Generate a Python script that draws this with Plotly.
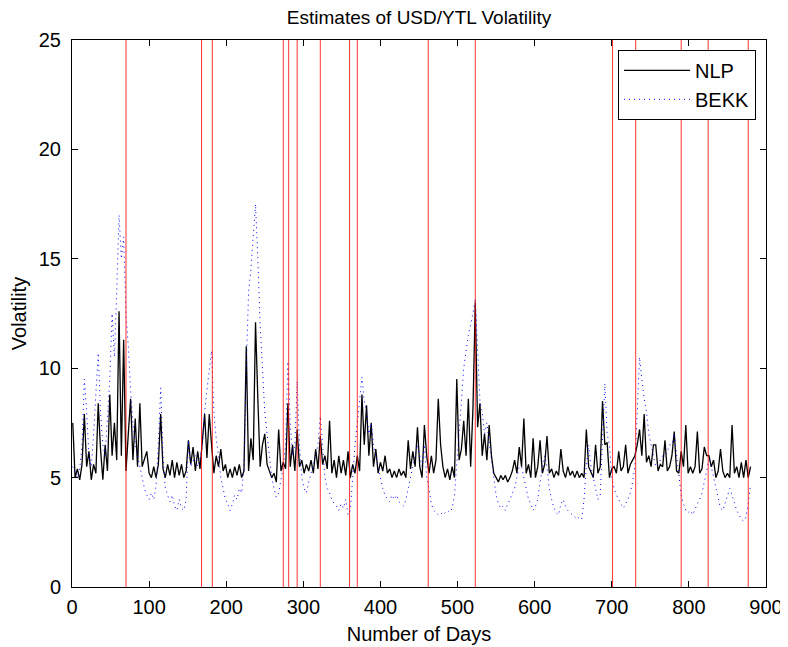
import numpy as np
import plotly.graph_objects as go

# NLP volatility estimates, sampled every 3 days starting at day 1
nlp_vol = [
    7.5, 5.0, 5.4, 4.9, 5.6, 7.9, 5.5, 6.2, 4.9, 5.6,
    5.2, 8.4, 6.3, 4.9, 6.5, 5.3, 8.8, 6.0, 7.5, 5.8,
    12.6, 6.0, 11.3, 5.3, 7.0, 8.6, 5.8, 7.7, 5.5, 8.4,
    5.5, 5.8, 6.2, 5.2, 5.0, 5.5, 5.0, 5.6, 7.9, 5.4,
    5.0, 5.6, 5.1, 5.8, 5.0, 5.7, 5.1, 5.6, 5.0, 5.3,
    6.7, 5.6, 6.4, 5.3, 6.2, 5.4, 6.8, 7.9, 5.9, 7.9,
    6.5, 5.2, 6.0, 5.5, 6.3, 5.3, 5.6, 5.0, 5.4, 5.0,
    5.5, 5.1, 5.6, 5.0, 5.3, 11.0, 5.3, 6.8, 5.8, 12.1,
    8.6, 5.5, 6.5, 7.0, 5.6, 5.3, 5.0, 5.2, 4.8, 7.2,
    5.3, 5.7, 5.4, 8.4, 5.5, 6.5, 5.3, 7.2, 5.5, 5.8,
    5.2, 5.6, 5.3, 5.8, 5.2, 6.3, 5.4, 6.9, 5.6, 6.0,
    5.4, 7.6, 5.2, 5.8, 5.0, 6.0, 5.2, 5.8, 5.1, 6.2,
    5.0, 5.6, 5.2, 6.0, 5.3, 8.8, 6.5, 8.3, 6.0, 7.5,
    5.5, 6.3, 5.2, 5.7, 5.3, 6.0, 5.2, 5.4, 5.0, 5.3,
    5.0, 5.4, 5.1, 5.3, 5.0, 6.7, 5.4, 6.2, 5.5, 7.3,
    5.5, 5.0, 7.4, 6.0, 5.2, 6.0, 5.2, 5.8, 8.6, 6.5,
    5.5, 5.0, 5.4, 4.9, 5.5, 5.0, 9.5, 5.8, 6.3, 7.6,
    6.0, 8.6, 5.5, 8.2, 13.0, 7.3, 8.4, 6.0, 7.0, 5.8,
    7.4, 6.0, 5.2, 5.0, 4.8, 5.1, 4.9, 5.1, 4.8, 5.0,
    5.3, 5.8, 5.2, 6.4, 5.5, 7.7, 5.2, 5.6, 5.0, 6.8,
    5.0, 5.5, 6.7, 5.2, 5.6, 6.9, 5.2, 5.4, 5.0, 5.3,
    5.1, 6.3, 5.3, 5.0, 5.5, 5.1, 5.3, 5.0, 5.3, 5.0,
    5.2, 5.0, 7.2, 5.5, 5.2, 5.0, 6.5, 5.2, 5.5, 8.5,
    6.5, 6.6, 5.0, 5.4, 5.5, 5.2, 6.2, 5.3, 5.5, 6.5,
    5.2, 5.6, 5.8, 6.0, 6.5, 7.2, 6.0, 7.9, 5.7, 6.0,
    5.5, 6.5, 6.5, 5.3, 5.6, 5.5, 6.7, 5.3, 5.5, 6.0,
    7.1, 5.3, 5.2, 6.2, 5.5, 7.4, 5.2, 5.5, 5.2, 5.5,
    7.1, 5.2, 5.4, 6.4, 6.0, 6.0, 5.5, 5.8, 5.0, 5.3,
    6.3, 5.3, 5.0, 5.2, 5.0, 7.4, 5.2, 5.5, 5.0, 5.7,
    5.0, 5.8, 5.0, 5.5,
]

# BEKK volatility estimates, sampled every 3 days starting at day 1
bekk_vol = [
    5.5, 5.2, 5.0, 5.4, 6.5, 9.5, 8.0, 6.0, 5.5, 7.0,
    9.0, 10.7, 8.0, 6.5, 6.0, 8.0, 9.5, 12.5, 10.5, 13.5,
    17.0, 15.0, 16.0, 12.5, 11.0, 9.0, 7.5, 6.5, 6.0, 5.5,
    5.0, 4.5, 4.2, 4.0, 4.3, 4.0, 4.6, 6.5, 9.1, 6.0,
    4.5, 4.2, 3.9, 4.2, 3.7, 3.5, 4.0, 3.6, 3.5, 4.0,
    6.7, 5.5, 5.8, 6.0, 5.5, 5.8, 6.5, 8.0, 9.0, 10.0,
    10.8, 8.0, 6.8, 6.0, 5.0, 4.5, 4.0, 3.8, 3.5, 3.8,
    4.2, 4.0, 4.5, 4.3, 5.5, 10.0, 13.5, 14.5, 16.0, 17.5,
    15.0, 12.0, 10.0, 8.0, 7.0, 6.0, 5.0, 4.5, 4.1, 4.3,
    5.0, 5.5, 6.5, 10.3, 7.5, 6.0, 6.5, 9.4, 6.5, 5.0,
    4.5, 4.3, 4.8, 5.2, 5.5, 6.0, 6.5, 7.8, 6.5, 5.0,
    4.5, 4.3, 4.0, 3.8, 3.7, 3.5, 3.8, 3.6, 4.0, 3.3,
    3.5, 5.0, 6.5, 7.5, 8.5, 9.6, 8.5, 8.0, 7.0, 7.5,
    6.5, 6.0, 5.5, 5.0, 4.5, 4.2, 4.0, 3.9, 4.2, 4.0,
    4.2, 3.9, 3.8, 3.7, 4.0, 4.5, 5.0, 5.5, 6.0, 6.5,
    6.0, 5.5, 6.5, 5.0, 4.5, 3.8, 3.5, 3.4, 3.3, 3.4,
    3.3, 3.4, 3.5, 3.4, 3.6, 4.2, 5.5, 7.0, 8.5, 10.0,
    10.8, 11.5, 12.0, 12.5, 13.2, 10.5, 8.5, 8.0, 7.0, 7.5,
    6.5, 5.8, 5.0, 4.2, 3.8, 3.6, 3.7, 3.5, 3.8, 4.0,
    4.3, 4.5, 5.0, 5.5, 5.5, 5.0, 4.5, 4.0, 3.8, 3.5,
    3.7, 4.0, 4.8, 5.5, 6.0, 5.5, 4.5, 4.0, 3.6, 3.4,
    3.3, 3.8, 4.0, 3.7, 3.5, 3.4, 3.3, 3.2, 3.1, 3.2,
    3.1, 4.0, 5.5, 6.5, 5.5, 5.0, 4.5, 4.0, 4.2, 7.0,
    9.3, 7.0, 6.5, 5.0, 4.5, 4.2, 4.0, 3.8, 3.6, 3.8,
    4.0, 4.3, 4.8, 5.5, 8.0, 10.5, 9.5, 8.6, 8.0, 7.0,
    6.5, 6.0, 5.5, 5.6, 5.8, 6.0, 6.0, 6.2, 6.5, 6.5,
    7.0, 6.0, 5.0, 4.2, 3.8, 3.5, 3.4, 3.5, 3.3, 3.6,
    3.8, 4.0, 4.3, 4.8, 5.3, 5.8, 5.5, 5.0, 4.5, 4.0,
    3.6, 3.5, 3.8, 4.2, 4.5, 4.2, 3.8, 3.5, 3.3, 3.1,
    3.0, 3.2, 3.8, 4.7,
]

# Days marked by vertical red lines
event_days = [70, 168, 182, 274, 281, 292, 322, 360, 370, 462, 523, 701, 731, 790, 825, 877]

x_ticks = [0, 100, 200, 300, 400, 500, 600, 700, 800, 900]
y_ticks = [0, 5, 10, 15, 20, 25]

step = 3
nlp_days = 1 + step * np.arange(len(nlp_vol))
bekk_days = 1 + step * np.arange(len(bekk_vol))

FONT = "Liberation Sans, Arial, sans-serif"

fig = go.Figure()
fig.add_trace(go.Scatter(x=nlp_days, y=nlp_vol, mode="lines", name="NLP",
                         line=dict(color="black", width=1.3)))
fig.add_trace(go.Scatter(x=bekk_days, y=bekk_vol, mode="lines", name="BEKK",
                         line=dict(color="blue", width=1, dash="1px,4px")))

for d in event_days:
    fig.add_shape(type="line", xref="x", yref="paper", x0=d, x1=d, y0=0, y1=1,
                  line=dict(color="rgba(255,0,0,0.8)", width=1), layer="above")

axis_common = dict(showline=True, linecolor="black", linewidth=1, mirror="ticks",
                   ticks="inside", ticklen=6, tickcolor="black", showgrid=False,
                   zeroline=False, automargin=False,
                   tickfont=dict(family=FONT, size=20, color="black"))

# page body has an 8px margin, so the figure is sized/offset to compensate
fig.update_layout(
    width=780, height=639,
    margin=dict(l=64, r=22, t=32, b=60),
    paper_bgcolor="white", plot_bgcolor="white",
    title=dict(text="Estimates of USD/YTL Volatility", x=0.5, xanchor="center",
               xref="paper", yref="container", y=0.986, yanchor="middle",
               font=dict(family=FONT, size=19, color="black")),
    xaxis=dict(range=[0, 900], tickvals=x_ticks, ticklabelstandoff=2,
               title=dict(text="Number of Days",
               font=dict(family=FONT, size=20, color="black"), standoff=9), **axis_common),
    yaxis=dict(range=[0, 25], tickvals=y_ticks, ticklabelstandoff=6,
               title=dict(text="Volatility",
               font=dict(family=FONT, size=20, color="black"), standoff=12), **axis_common),
    legend=dict(x=0.9856, y=0.982, xanchor="right", yanchor="top",
                bgcolor="white", bordercolor="black", borderwidth=1,
                font=dict(family=FONT, size=20, color="black"),
                itemwidth=66, tracegroupgap=0),
    showlegend=True,
)

fig.write_html("out.html")
